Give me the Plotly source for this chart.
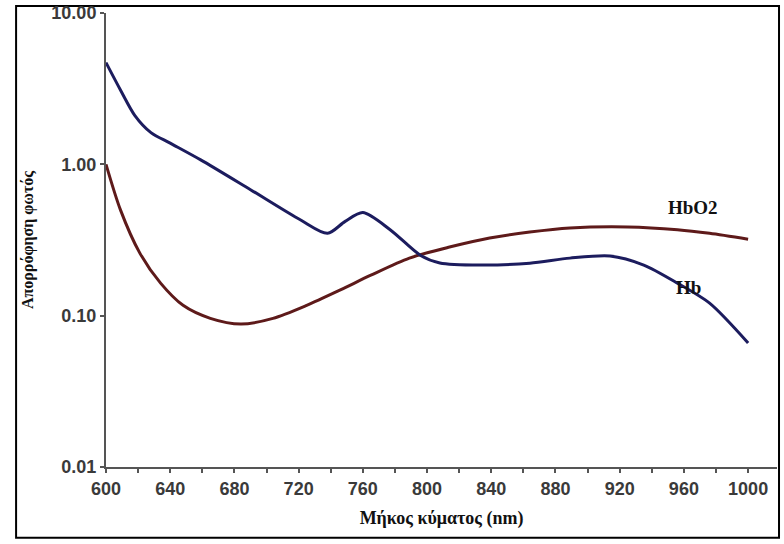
import plotly.graph_objects as go

# Wavelengths (nm) and absorbance values
hb_wavelength = [600, 609, 618, 628, 640, 659, 690, 721, 738, 749, 760, 777, 796, 808, 833, 864, 889, 914, 935, 956, 976, 1000]
hb_absorb = [4.7, 3.1, 2.1, 1.62, 1.38, 1.07, 0.68, 0.43, 0.35, 0.42, 0.48, 0.37, 0.25, 0.223, 0.216, 0.222, 0.24, 0.248, 0.216, 0.164, 0.121, 0.066]

hbo2_wavelength = [600, 609, 621, 634, 648, 665, 684, 704, 725, 746, 765, 789, 814, 839, 864, 889, 925, 956, 976, 1000]
hbo2_absorb = [1.0, 0.5, 0.26, 0.164, 0.117, 0.096, 0.088, 0.096, 0.117, 0.148, 0.185, 0.24, 0.284, 0.326, 0.357, 0.38, 0.386, 0.37, 0.35, 0.32]

y_tickvals = [0.01, 0.1, 1, 10]
y_ticktext = ["0.01", "0.10", "1.00", "10.00"]
x_tickvals = [600, 640, 680, 720, 760, 800, 840, 880, 920, 960, 1000]

fig = go.Figure()
fig.add_trace(go.Scatter(x=hbo2_wavelength, y=hbo2_absorb, mode="lines", name="HbO2",
                         line=dict(color="#5e1a1a", width=3, shape="spline", smoothing=0.8)))
fig.add_trace(go.Scatter(x=hb_wavelength, y=hb_absorb, mode="lines", name="Hb",
                         line=dict(color="#1c1c5e", width=3, shape="spline", smoothing=0.8)))

fig.add_annotation(x=965.7, y=-0.282, xref="x", yref="y", text="<b>HbO2</b>", showarrow=False,
                   font=dict(family="Liberation Serif", size=19, color="#111111"))
fig.add_annotation(x=963, y=-0.811, xref="x", yref="y", text="<b>Hb</b>", showarrow=False,
                   font=dict(family="Liberation Serif", size=19, color="#111111"))

# Outer frame
fig.add_shape(type="rect", xref="paper", yref="paper", x0=-0.134, x1=1.003, y0=-0.156, y1=1.0154,
              line=dict(color="black", width=2), fillcolor="rgba(0,0,0,0)", layer="below")

tickfont = dict(family="Liberation Sans", size=18, color="#3a3a3a")

fig.update_layout(
    width=784, height=544,
    margin=dict(l=106, r=7, t=13, b=77, autoexpand=False),
    paper_bgcolor="white", plot_bgcolor="white",
    showlegend=False,
    xaxis=dict(
        range=[600, 1018], tickvals=x_tickvals, ticktext=[f"<b>{v}</b>" for v in x_tickvals],
        showgrid=False, zeroline=False, showline=True, linecolor="#555555", linewidth=2,
        ticks="outside", ticklen=4, tickwidth=2, tickcolor="#555555", automargin=False,
        minor=dict(dtick=20, tick0=600, ticks="outside", ticklen=4, tickwidth=2, tickcolor="#555555"),
        tickfont=tickfont,
        title=dict(text="<b>Μήκος κύματος (nm)</b>", font=dict(family="Liberation Serif", size=18, color="#111111"), standoff=14),
    ),
    yaxis=dict(
        type="log", range=[-2, 1], tickvals=y_tickvals, ticktext=[f"<b>{t}</b>" for t in y_ticktext],
        showgrid=False, zeroline=False, showline=True, linecolor="#555555", linewidth=2,
        ticks="outside", ticklen=4, tickwidth=2, tickcolor="#555555", automargin=False,
        tickfont=tickfont,
        title=dict(text="<b>Απορρόφηση φωτός</b>", font=dict(family="Liberation Serif", size=16, color="#111111"), standoff=14),
    ),
)

fig.write_html("out.html", config={"displayModeBar": False}, post_script="document.body.style.margin='0';")
